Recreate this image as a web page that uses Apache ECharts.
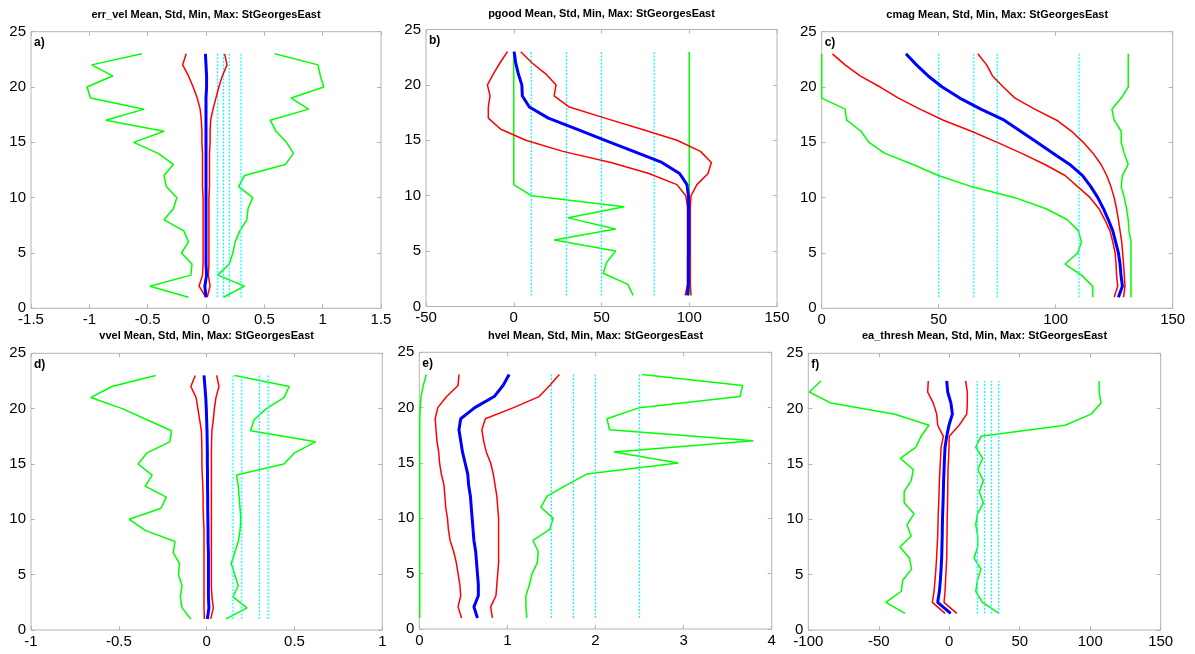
<!DOCTYPE html>
<html><head><meta charset="utf-8">
<script src="https://cdn.jsdelivr.net/npm/echarts@6.0.0/dist/echarts.min.js"></script>
<style>html,body{margin:0;padding:0;background:#fff}#c{width:1195px;height:654px}</style>
</head><body><div id="c"></div>
<script>
// ---------- DATA ----------
const depth = [1,2,3,4,5,6,7,8,9,10,11,12,13,14,15,16,17,18,19,20,21,22,23];
const depthHalf = [1.5,2.5,3.5,4.5,5.5,6.5,7.5,8.5,9.5,10.5,11.5,12.5,13.5,14.5,15.5,16.5,17.5,18.5,19.5,20.5,21.5,22.5];
const yTicks = [0,5,10,15,20,25];

const titles = ["err_vel Mean, Std, Min, Max: StGeorgesEast","pgood Mean, Std, Min, Max: StGeorgesEast","cmag Mean, Std, Min, Max: StGeorgesEast","vvel Mean, Std, Min, Max: StGeorgesEast","hvel Mean, Std, Min, Max: StGeorgesEast","ea_thresh Mean, Std, Min, Max: StGeorgesEast"];
const panelLabels = ["a)","b)","c)","d)","e)","f)"];

// a) err_vel
const aTicks = [-1.5,-1,-0.5,0,0.5,1,1.5];
const aMin  = [-0.15,-0.48,-0.13,-0.12,-0.21,-0.15,-0.19,-0.36,-0.28,-0.25,-0.34,-0.36,-0.28,-0.41,-0.62,-0.36,-0.86,-0.53,-0.99,-1.02,-0.80,-0.98,-0.55];
const aMax  = [0.15,0.33,0.10,0.20,0.23,0.25,0.29,0.35,0.36,0.40,0.28,0.33,0.68,0.75,0.69,0.60,0.55,0.88,0.73,1.01,0.98,0.96,0.59];
const aLo   = [0.00,-0.06,-0.03,-0.025,-0.025,-0.025,-0.025,-0.025,-0.025,-0.025,-0.03,-0.03,-0.03,-0.03,-0.035,-0.035,-0.04,-0.05,-0.075,-0.11,-0.15,-0.20,-0.17];
const aHi   = [0.01,0.035,0.02,0.025,0.025,0.025,0.025,0.025,0.025,0.025,0.03,0.03,0.03,0.03,0.035,0.035,0.04,0.06,0.085,0.11,0.14,0.18,0.16];
const aMean = [0.0,-0.01,0.005,0,0,0,0,0,0,0,0,0,0,0,0,0,0,0,0,0.005,0.005,0,-0.005];
const aCyan = [0.1,0.15,0.2,0.3];

// b) pgood
const bTicks = [-50,0,50,100,150];
const bMin  = [68,65,51,53,58,23,58,31,63,10,0,0,0,0,0,0,0,0,0,0,0,0,0];
const bMax  = [100,100,100,100,100,100,100,100,100,100,100,100,100,100,100,100,100,100,100,100,100,100,100];
const bLo   = [97.7,99,99,99,99,99,99,99,99,98,93,77,55.4,28,6.9,-7.4,-14.5,-14.5,-13.5,-15,-11.6,-7.8,-3.6];
const bHi   = [101,100.6,100.6,100.6,100.6,100.6,100.6,100.6,100.6,101,104.4,110.7,112.6,106.4,93,72.9,52,31.7,23,24.1,18.2,10.3,4];
const bMean = [99,99.5,99.5,99.5,99.6,99.6,99.6,99.6,99.6,99.5,98.7,94.5,84.4,68.3,52.1,35.9,19.7,8.9,4.9,4.6,2.6,1.1,0.2];
const bCyan = [10,30,50,80];

// c) cmag
const cTicks = [0,50,100,150];
const cMin  = [115.8,115.8,111,104,109.4,111,109.7,105,95.9,82.6,64,49.9,39,27,20.2,16.8,10.7,10,0,0,0,0,0];
const cMax  = [132.2,132.2,132.2,132.2,132.2,132.2,131.3,131,130.3,129.3,128,128.5,131,129.3,128,128,125,124,128,131,131,131,131];
const cLo   = [125,126.5,126,125.8,125.4,124.4,123.2,121,118.5,114.7,109.4,104,95.4,85.5,75,64,52,42,32.8,25,16.4,10,4.6];
const cHi   = [129,129.6,129.3,129,128.6,128.2,127.5,126.8,126,125,123.6,121.8,119.4,116,111.8,106.8,100.4,91,82.6,77.6,73,70.5,66.7];
const cMean = [126.8,128.5,127.9,127.5,126.8,125.6,124.4,122.5,120.4,118,115,111.5,106,99,92,85,78,68,59,51.5,45.5,40.5,36];
const cCyan = [50,65,75,110];

// d) vvel
const dTicks = [-1,-0.5,0,0.5,1];
const dMin  = [-0.09,-0.14,-0.15,-0.14,-0.16,-0.155,-0.19,-0.18,-0.35,-0.44,-0.26,-0.23,-0.35,-0.31,-0.39,-0.34,-0.21,-0.2,-0.34,-0.48,-0.66,-0.54,-0.29];
const dMax  = [0.11,0.23,0.15,0.18,0.16,0.14,0.16,0.18,0.19,0.195,0.19,0.185,0.18,0.17,0.44,0.5,0.62,0.25,0.27,0.34,0.44,0.47,0.16];
const dLo   = [-0.013,-0.015,-0.015,-0.015,-0.015,-0.015,-0.015,-0.015,-0.015,-0.018,-0.02,-0.02,-0.022,-0.025,-0.027,-0.027,-0.028,-0.03,-0.04,-0.05,-0.06,-0.09,-0.065];
const dHi   = [0.023,0.038,0.03,0.027,0.027,0.027,0.027,0.027,0.027,0.027,0.027,0.027,0.027,0.027,0.027,0.027,0.028,0.03,0.038,0.044,0.053,0.07,0.057];
const dMean = [0.004,0.013,0.01,0.01,0.01,0.01,0.01,0.008,0.008,0.007,0.006,0.006,0.005,0.005,0.004,0.004,0.003,0.002,0.0,-0.002,-0.005,-0.01,-0.015];
const dCyan = [0.15,0.2,0.3,0.35];

// e) hvel
const eTicks = [0,1,2,3,4];
const eMin  = [0.005,0.005,0.005,0.005,0.005,0.005,0.005,0.005,0.005,0.005,0.005,0.005,0.005,0.005,0.005,0.005,0.005,0.005,0.005,0.01,0.02,0.045,0.08];
const eMax  = [1.22,1.21,1.21,1.25,1.28,1.34,1.35,1.29,1.48,1.52,1.38,1.45,1.67,1.9,2.94,2.21,3.79,2.16,2.13,2.5,3.64,3.67,2.53];
const eLo   = [0.48,0.44,0.47,0.46,0.44,0.42,0.39,0.35,0.33,0.32,0.30,0.29,0.28,0.25,0.23,0.22,0.20,0.19,0.18,0.21,0.31,0.44,0.45];
const eHi   = [0.83,0.81,0.87,0.88,0.89,0.90,0.90,0.90,0.90,0.90,0.89,0.88,0.86,0.84,0.81,0.76,0.73,0.71,0.75,1.07,1.36,1.48,1.59];
const eMean = [0.66,0.62,0.67,0.67,0.66,0.65,0.64,0.62,0.61,0.60,0.59,0.58,0.56,0.55,0.52,0.49,0.47,0.45,0.47,0.63,0.85,0.95,1.02];
const eCyan = [1.5,1.75,2,2.5];

// f) ea_thresh
const fTicks = [-100,-50,0,50,100,150];
const fMin  = [-31.4,-45,-34,-33,-26.7,-28.3,-35,-27,-30,-25,-32,-32,-27,-25.5,-34.7,-23.8,-20,-14.4,-38.5,-83.9,-99.3,-91];
const fMax  = [35.3,23.5,18.8,20,22.5,17.6,20.2,20.2,18.8,20,24.2,21.3,24.2,20.2,23.7,18.8,22.5,82.2,100.6,107.7,106.3,106.3];
const fLo   = [-3,-12,-10.8,-10.1,-9.5,-9,-8.6,-8.2,-8,-7.8,-7.5,-7.2,-7,-6.6,-6.2,-5.8,-4.2,-8.2,-8.9,-11.3,-15.3,-14.9];
const fHi   = [5.3,-3.7,-3,-2.6,-2.2,-1.8,-1.7,-1.6,-1.5,-1.4,-1.2,-1.1,-1,-0.9,-0.5,-0.2,0,7,12.4,12.8,12.8,11.6];
const fMean = [1,-8.2,-7,-6.3,-5.8,-5.4,-5.2,-5,-4.9,-4.7,-4.4,-4.2,-4,-3.7,-3.4,-3,-1.8,-0.2,2.2,1.2,-1.1,-1.8];
const fCyan = [20,25,30,35];

// ---------- LAYOUT ----------
const boxes = [
  {left:31,  top:31.7, width:350, height:276.6},
  {left:426, top:29.5, width:351, height:277},
  {left:821.7, top:31.7, width:351, height:276.6},
  {left:31,  top:353.3, width:351.3, height:276.7},
  {left:419.3, top:352.3, width:352.4, height:276.7},
  {left:808.3, top:353.3, width:352.4, height:276.7}
];
const titleY = [15,14,15,336,336,336];

const panels = [
  {ticks:aTicks, y:depth, min:aMin, max:aMax, lo:aLo, hi:aHi, mean:aMean, cyan:aCyan},
  {ticks:bTicks, y:depth, min:bMin, max:bMax, lo:bLo, hi:bHi, mean:bMean, cyan:bCyan},
  {ticks:cTicks, y:depth, min:cMin, max:cMax, lo:cLo, hi:cHi, mean:cMean, cyan:cCyan},
  {ticks:dTicks, y:depth, min:dMin, max:dMax, lo:dLo, hi:dHi, mean:dMean, cyan:dCyan},
  {ticks:eTicks, y:depth, min:eMin, max:eMax, lo:eLo, hi:eHi, mean:eMean, cyan:eCyan},
  {ticks:fTicks, y:depthHalf, min:fMin, max:fMax, lo:fLo, hi:fHi, mean:fMean, cyan:fCyan}
];

const FONT = '"Liberation Sans", Arial, Helvetica, sans-serif';
const frameColor = '#b4b4b4';

const grid = [], xAxis = [], yAxis = [], series = [], graphic = [];
panels.forEach((p, i) => {
  const b = boxes[i];
  grid.push({left:b.left, top:b.top, width:b.width, height:b.height, show:true,
             borderColor:frameColor, borderWidth:1, backgroundColor:'#fff', containLabel:false});
  const xmin = p.ticks[0], xmax = p.ticks[p.ticks.length-1], xint = p.ticks[1]-p.ticks[0];
  const tick = {show:true, inside:true, length:4, lineStyle:{color:frameColor, width:1}};
  const line = {show:false, onZero:false};
  xAxis.push({type:'value', gridIndex:i, position:'bottom', min:xmin, max:xmax, interval:xint,
    axisLine:line, splitLine:{show:false}, axisTick:tick,
    axisLabel:{show:true, color:'#000', fontSize:15, fontFamily:FONT, margin:4, showMinLabel:true, showMaxLabel:true}});
  xAxis.push({type:'value', gridIndex:i, position:'top', min:xmin, max:xmax, interval:xint,
    axisLine:line, splitLine:{show:false}, axisTick:tick, axisLabel:{show:false}});
  yAxis.push({type:'value', gridIndex:i, position:'left', min:yTicks[0], max:yTicks[yTicks.length-1], interval:yTicks[1]-yTicks[0],
    axisLine:line, splitLine:{show:false}, axisTick:tick,
    axisLabel:{show:true, color:'#000', fontSize:15, fontFamily:FONT, margin:5, showMinLabel:true, showMaxLabel:true}});
  yAxis.push({type:'value', gridIndex:i, position:'right', min:yTicks[0], max:yTicks[yTicks.length-1], interval:yTicks[1]-yTicks[0],
    axisLine:line, splitLine:{show:false}, axisTick:tick, axisLabel:{show:false}});

  const xi = i*2, yi = i*2;
  const mk = (vals, color, width, extra) => Object.assign({
    type:'line', xAxisIndex:xi, yAxisIndex:yi, symbol:'none', silent:true, animation:false,
    data: vals.map((v,k)=>[v, p.y[k]]), lineStyle:{color:color, width:width}
  }, extra||{});
  series.push(mk(p.min, '#00ff00', 1.5));
  series.push(mk(p.max, '#00ff00', 1.5));
  p.cyan.forEach(c => {
    series.push({type:'line', xAxisIndex:xi, yAxisIndex:yi, symbol:'none', silent:true, animation:false,
      data:[[c, p.y[0]],[c, p.y[p.y.length-1]]], lineStyle:{color:'#00ffff', width:1.2, type:[2,1.5]}});
  });
  series.push(mk(p.lo, '#ff0000', 1.5));
  series.push(mk(p.hi, '#ff0000', 1.5));
  series.push(mk(p.mean, '#0000ff', 3));

  graphic.push({type:'text', x:b.left + b.width/2, y:titleY[i], silent:true,
    style:{text:titles[i], font:'bold 11px ' + FONT, fill:'#000', textAlign:'center', textVerticalAlign:'middle'}});
  graphic.push({type:'text', x:b.left + 3, y:b.top + 11, silent:true, z:100,
    style:{text:panelLabels[i], font:'bold 12px ' + FONT, fill:'#000', textAlign:'left', textVerticalAlign:'middle'}});
});

const chart = echarts.init(document.getElementById('c'), null, {renderer:'canvas'});
chart.setOption({backgroundColor:'#fff', animation:false, grid, xAxis, yAxis, series, graphic});
</script></body></html>
